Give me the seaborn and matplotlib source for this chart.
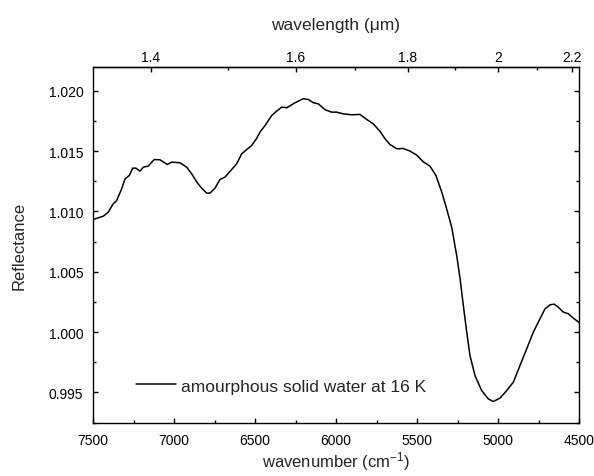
import numpy as np
import pandas as pd
import matplotlib
matplotlib.use("Agg")
import matplotlib.pyplot as plt
from matplotlib.ticker import MultipleLocator, FixedLocator, FormatStrFormatter
import seaborn as sns

# Near-IR reflectance spectrum of amorphous solid water
wavenumber = [7500, 7436, 7406, 7375, 7354, 7323, 7302, 7276, 7255, 7235, 7210, 7189,
              7159, 7122, 7086, 7041, 7014, 6963, 6922, 6891, 6856, 6829, 6798, 6778,
              6747, 6716, 6685, 6644, 6613, 6582, 6551, 6520, 6490, 6469, 6438, 6397,
              6366, 6335, 6304, 6253, 6202, 6171, 6140, 6109, 6068, 6027, 5996, 5955,
              5903, 5852, 5810, 5770, 5728, 5697, 5667, 5625, 5585, 5543, 5502, 5461,
              5420, 5383, 5347, 5317, 5286, 5255, 5234, 5214, 5193, 5173, 5142, 5101,
              5060, 5029, 4988, 4946, 4905, 4864, 4823, 4782, 4741, 4710, 4679, 4654,
              4628, 4597, 4566, 4535, 4500]
reflectance = [1.00933, 1.00961, 1.00994, 1.01063, 1.0109, 1.01188, 1.0127, 1.01298,
               1.01359, 1.01359, 1.01334, 1.01367, 1.01376, 1.0143, 1.01428, 1.01389,
               1.01409, 1.01403, 1.01367, 1.01312, 1.01237, 1.01193, 1.01152, 1.01152,
               1.01193, 1.01265, 1.01285, 1.01348, 1.01395, 1.01478, 1.01513, 1.01547,
               1.01605, 1.01658, 1.01712, 1.01795, 1.01832, 1.01865, 1.01859, 1.01901,
               1.01934, 1.01928, 1.01901, 1.01892, 1.01843, 1.01823, 1.01823, 1.01809,
               1.01801, 1.01804, 1.01762, 1.01726, 1.01663, 1.01602, 1.01555, 1.01519,
               1.01522, 1.015, 1.01467, 1.01411, 1.01376, 1.01298, 1.0116, 1.01022,
               1.0087, 1.00635, 1.00442, 1.0022, 1.0000, 0.99806, 0.9964, 0.99516,
               0.99447, 0.99425, 0.99453, 0.99516, 0.99586, 0.99724, 0.99861, 1.0000,
               1.0011, 1.00193, 1.00226, 1.00232, 1.00207, 1.00166, 1.00152, 1.00116,
               1.0008]
series_label = "amourphous solid water at 16 K"
wavelength_ticks = [1.4, 1.6, 1.8, 2.0, 2.2]
wavelength_tick_labels = ["1.4", "1.6", "1.8", "2", "2.2"]
wavelength_minor = [1.5, 1.7, 1.9, 2.1]

sns.set_theme(style="ticks")
plt.rcParams["font.family"] = ["Liberation Sans", "DejaVu Sans"]
plt.rcParams["mathtext.fontset"] = "custom"
plt.rcParams["mathtext.rm"] = "Liberation Sans"
plt.rcParams["mathtext.it"] = "Liberation Sans:italic"

df = pd.DataFrame({"wavenumber": wavenumber, "reflectance": reflectance})

fig = plt.figure(figsize=(5.94, 4.77), dpi=100)
ax = fig.add_axes([93 / 594, 1 - 424 / 477, (579 - 93) / 594, (424 - 68) / 477])

sns.lineplot(data=df, x="wavenumber", y="reflectance", ax=ax, color="black",
             linewidth=1.1, estimator=None, sort=False, label=series_label)

ax.set_xlim(7500, 4500)
ax.set_ylim(0.99247, 1.02197)
ax.xaxis.set_major_locator(MultipleLocator(500))
ax.xaxis.set_minor_locator(MultipleLocator(250))
ax.yaxis.set_major_locator(MultipleLocator(0.005))
ax.yaxis.set_minor_locator(MultipleLocator(0.0025))
ax.yaxis.set_major_formatter(FormatStrFormatter("%.3f"))

for side in ["left", "right", "top", "bottom"]:
    ax.spines[side].set_linewidth(1.0)
    ax.spines[side].set_color("black")

ax.tick_params(which="both", direction="in", top=False, right=True,
               colors="black", labelsize=10, width=1.0)
ax.tick_params(axis="x", which="major", length=3.6, pad=7.5)
ax.tick_params(axis="y", which="major", length=3.6, pad=7)
ax.tick_params(which="minor", length=2.2)

ax.set_xlabel("wavenumber (cm$^{-1}$)", fontsize=12, labelpad=1.5)
ax.set_ylabel("Reflectance", fontsize=12, labelpad=16)

top = ax.secondary_xaxis("top", functions=(lambda k: 1e4 / np.asarray(k, dtype=float),
                                           lambda w: 1e4 / np.asarray(w, dtype=float)))
top.xaxis.set_major_locator(FixedLocator(wavelength_ticks))
top.xaxis.set_minor_locator(FixedLocator(wavelength_minor))
top.set_xticklabels(wavelength_tick_labels)
top.tick_params(which="both", direction="in", colors="black", labelsize=10, width=1.0)
top.tick_params(which="major", length=3.6, pad=2.5)
top.tick_params(which="minor", length=2.2)
top.spines["top"].set_linewidth(1.0)
top.set_xlabel("wavelength (μm)", fontsize=12.5, labelpad=15)

leg = ax.legend(loc="center left", bbox_to_anchor=(0.0885, 0.104), frameon=False,
                fontsize=12.5, handlelength=2.3, handletextpad=0.3,
                borderpad=0, borderaxespad=0)

fig.savefig("out.png", dpi=100)
